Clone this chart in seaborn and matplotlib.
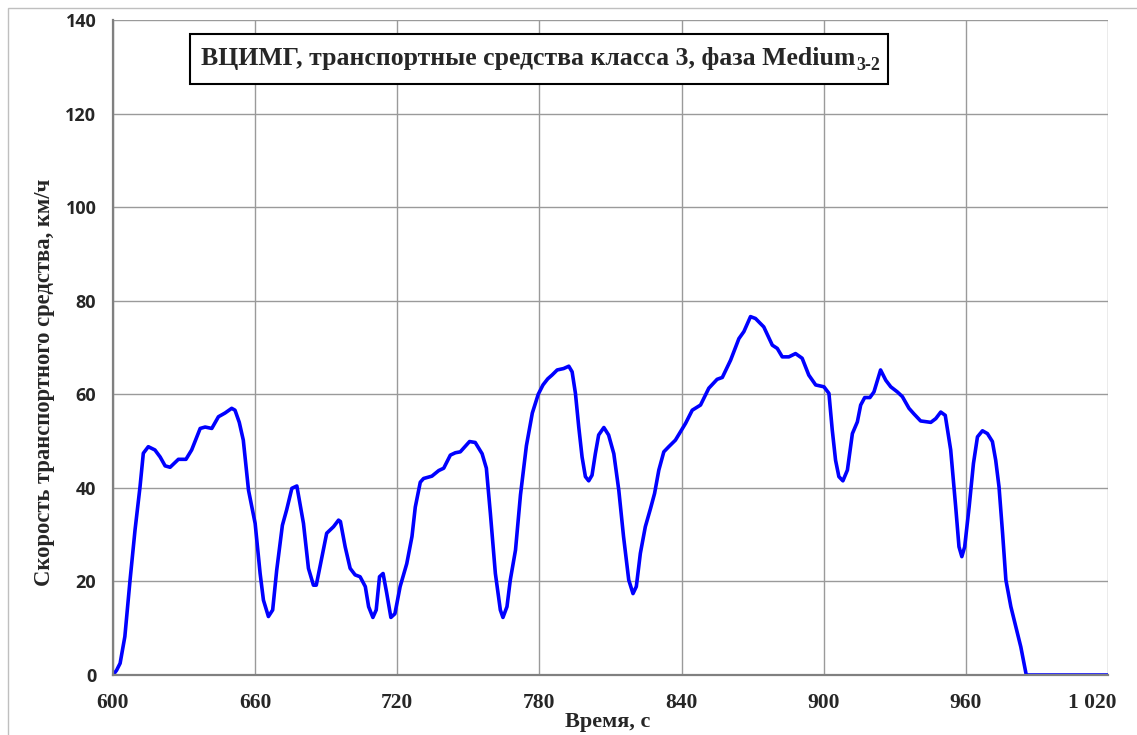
import matplotlib
matplotlib.use("Agg")
import matplotlib.pyplot as plt
import matplotlib.transforms as mtransforms
from matplotlib.patches import Rectangle
from matplotlib.text import Annotation
from matplotlib.ticker import MultipleLocator
import seaborn as sns
import pandas as pd

# --- data ---
time_s = [600, 601.5, 603, 605, 607.2, 609.3, 611.4, 612.8, 614.9, 617.7, 619.9, 622, 624.1,
          627.6, 630.8, 633.2, 636.8, 638.9, 641.7, 644.5, 647.3, 650.1, 651.5, 653.3, 655, 657.2, 660,
          662.1, 663.5, 665.6, 667.4, 669.1, 671.5, 673.3, 675.5, 677.6, 680.4, 682.5, 684.6,
          685.8, 688.2, 690.2, 693.1, 695.2, 696, 698, 700.1, 702.2, 704.3, 706.5, 707.9, 709.7,
          711.1, 712.5, 714, 715.5, 717.3, 719, 721.2, 724, 726.2, 727.6, 729.7, 731.1, 734.6,
          737.5, 739.6, 742.4, 744.5, 746.6, 750.5, 752.9, 755.8, 757.6, 759.3, 761.4, 763.5,
          764.6, 766.3, 767.7, 769.9, 772, 774.5, 777, 779.5, 781.5, 783.5, 785.3, 787.5, 790.2,
          792.4, 793.8, 795.2, 796.6, 798, 799.4, 800.8, 802.2, 803.6, 805, 807.2, 809.2, 811.4,
          813.5, 815.5, 817.7, 819.5, 820.9, 822.6, 824.7, 826.9, 828.6, 830.4, 832.5, 834.6,
          837.4, 841.7, 844.5, 848, 851.5, 855, 857.2, 860.7, 864.2, 866.3, 869.1, 871.2, 874.7,
          878.3, 880.4, 882.5, 885.3, 888.1, 890.9, 893.7, 896.6, 900.1, 902.2, 903.6, 905,
          906.4, 908.1, 910, 912.1, 914.2, 915.6, 917.3, 919.5, 921.2, 924, 926.2, 928.3, 931.1,
          933.2, 936, 938.1, 940.9, 945.2, 947.3, 949.4, 951.3, 953.6, 955.7, 957.1, 958.3,
          959.5, 961.4, 963.2, 964.9, 967, 969.1, 971.2, 972.6, 974, 975.5, 976.9, 979, 981.1,
          983.2, 985.5, 1000, 1020]
speed_kmh = [0, 1, 2.5, 8.2, 20.3, 31, 40.2, 47.4, 48.8, 48.1, 46.6, 44.7, 44.4,
             46.1, 46.1, 48.1, 52.7, 53, 52.7, 55.2, 56, 57, 56.6, 54, 50.2, 39.5, 32.4,
             21.7, 16, 12.5, 13.9, 22.4, 32, 35.3, 39.9, 40.4, 32.4, 22.8, 19.2,
             19.2, 25.3, 30.3, 31.7, 33.1, 32.8, 27.4, 22.8, 21.4, 21, 18.9, 14.6, 12.3,
             13.9, 21, 21.7, 17.6, 12.3, 13.1, 18.9, 23.8, 29.6, 35.9, 41.2, 42, 42.5,
             43.7, 44.2, 47, 47.5, 47.7, 49.9, 49.7, 47.3, 44.2, 34.5, 21.7, 13.9,
             12.3, 14.6, 20.3, 26.7, 38.5, 49, 56, 60, 62, 63.3, 64.1, 65.2, 65.5,
             66, 64.8, 60.2, 53, 46.6, 42.4, 41.5, 42.7, 47.3, 51.3, 52.9, 51.3, 47.3,
             39.5, 29.6, 20.3, 17.4, 18.9, 26, 31.7, 35.6, 38.8, 43.8, 47.7, 48.8,
             50.2, 53.8, 56.6, 57.7, 61.3, 63.2, 63.6, 67.3, 71.9, 73.4, 76.6, 76.2, 74.4,
             70.5, 69.8, 68, 68, 68.7, 67.7, 64.1, 62, 61.6, 60.2, 52.4, 45.9,
             42.4, 41.5, 43.8, 51.6, 54.1, 57.7, 59.3, 59.3, 60.5, 65.2, 63, 61.6, 60.5,
             59.5, 57, 55.8, 54.3, 54, 54.8, 56.2, 55.5, 48.1, 36, 27.4, 25.3,
             27.4, 36, 45.2, 50.9, 52.2, 51.6, 49.9, 45.9, 40.2, 30.3, 20.3, 14.6, 10.3,
             6, 0, 0, 0]

x_ticks = [600, 660, 720, 780, 840, 900, 960, 1020]
x_tick_labels = ["600", "660", "720", "780", "840", "900", "960", "1 020"]
y_ticks = [0, 20, 40, 60, 80, 100, 120, 140]

title_main = "ВЦИМГ, транспортные средства класса 3, фаза Medium"
title_sub = "3-2"
x_label = "Время, с"
y_label = "Скорость транспортного средства, км/ч"

df = pd.DataFrame({"t": time_s, "v": speed_kmh})

sns.set_style("white")
plt.rcParams["font.family"] = ["Liberation Serif", "DejaVu Serif"]

W, H = 1137, 735
fig = plt.figure(figsize=(W / 100, H / 100), dpi=100)
ax = fig.add_axes([113 / W, 1 - 675 / H, 995 / W, 655 / H])

sns.lineplot(data=df, x="t", y="v", ax=ax, color="#0000FF", linewidth=2.6, sort=False)
ax.lines[0].set_solid_joinstyle("round")
ax.lines[0].set_solid_capstyle("round")

ax.set_xlim(600, 1020)
ax.set_ylim(0, 140)
ax.set_xticks(x_ticks)
ax.set_xticklabels(x_tick_labels)
ax.set_yticks(y_ticks)
ax.xaxis.set_minor_locator(MultipleLocator(10))
ax.yaxis.set_minor_locator(MultipleLocator(5))

ax.grid(True, which="major", color="#9a9a9a", linewidth=1.0)
ax.set_axisbelow(True)
for s in ["top", "right"]:
    ax.spines[s].set_visible(False)
for s in ["left", "bottom"]:
    ax.spines[s].set_color("#808080")
    ax.spines[s].set_linewidth(1.6)

ax.tick_params(axis="both", which="both", direction="inout", color="#808080", width=1.0)
ax.tick_params(axis="both", which="major", length=6)
ax.tick_params(axis="both", which="minor", length=6)
ax.tick_params(axis="x", which="major", pad=10)
ax.tick_params(axis="y", which="major", pad=9)

for lbl in ax.get_xticklabels():
    lbl.set_fontfamily(["Liberation Serif"])
    lbl.set_fontweight("bold")
    lbl.set_fontsize(15.5)
for lbl in ax.get_yticklabels():
    lbl.set_fontfamily(["Open Sans", "DejaVu Sans"])
    lbl.set_fontweight("bold")
    lbl.set_fontsize(13)

last = ax.get_xticklabels()[-1]
last.set_horizontalalignment("right")
last.set_transform(last.get_transform() + mtransforms.ScaledTranslation(8 / 100, 0, fig.dpi_scale_trans))

ax.set_xlabel(x_label, fontsize=16, fontweight="bold", family=["Liberation Serif"])
ax.set_ylabel(y_label, fontsize=16.3, fontweight="bold", family=["Liberation Serif"])
ax.xaxis.set_label_coords((608 - 113) / 995, -(722 - 675) / 655)
ax.yaxis.set_label_coords((45 - 113) / 995, (675 - 382) / 655)
ax.xaxis.label.set_verticalalignment("center")
ax.yaxis.label.set_verticalalignment("center")

# title box
fig.patches.append(Rectangle((190 / W, 1 - 84 / H), 698 / W, 50 / H, transform=fig.transFigure,
                             fill=True, facecolor="white", edgecolor="black", linewidth=1.5, zorder=5))
t1 = fig.text(855 / W, 1 - 59 / H, title_main, ha="right", va="center", fontsize=18.5,
              fontweight="bold", family=["Liberation Serif"], zorder=6)
sub = Annotation(title_sub, xy=(1.0, 0.0), xycoords=t1, xytext=(1, -2.5), textcoords="offset points",
                 ha="left", va="bottom", fontsize=13, fontweight="bold", family=["Liberation Serif"],
                 annotation_clip=False, zorder=7)
fig.add_artist(sub)

# outer chart border
fig.patches.append(Rectangle((8 / W, -0.1), 1.2, 1 - 8 / H + 0.1, transform=fig.transFigure,
                             fill=False, edgecolor="#bfbfbf", linewidth=1.0))

fig.savefig("out.png", dpi=100)
